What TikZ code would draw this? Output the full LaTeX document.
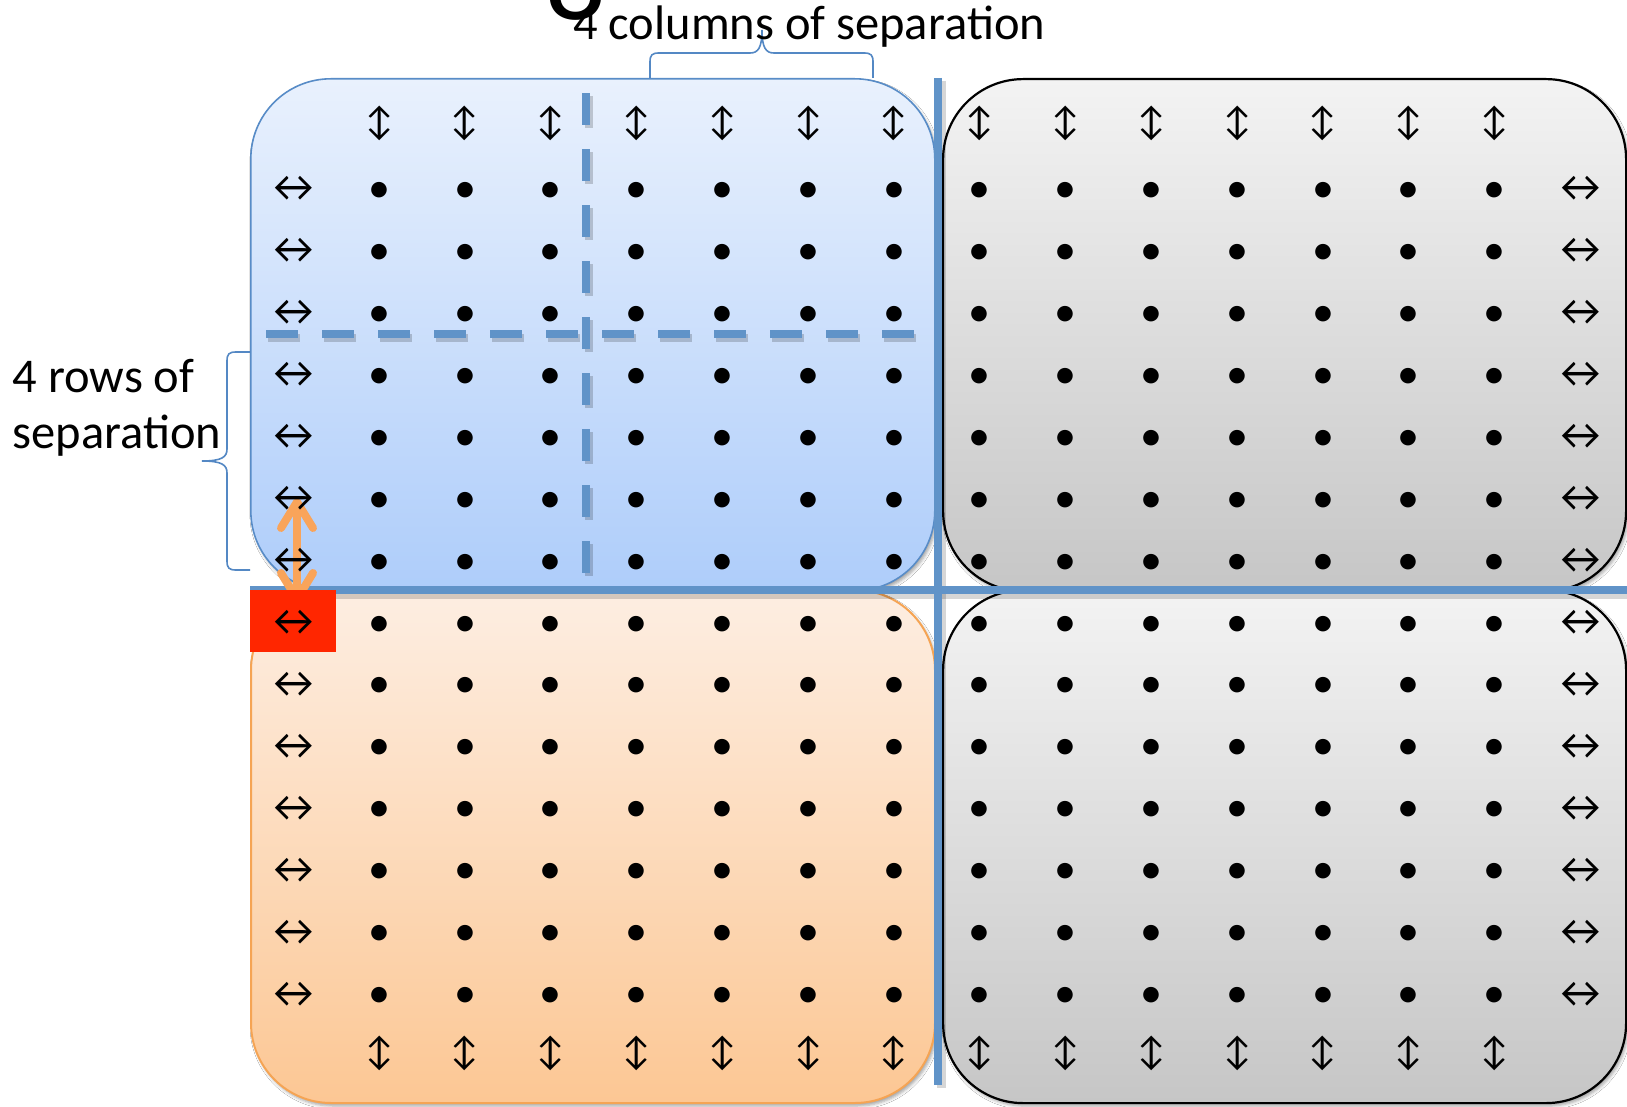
\documentclass[tikz,border=0pt]{standalone}
\usepackage{fontspec}
\setmainfont{Carlito}
\usetikzlibrary{arrows.meta,shadows.blur}

\definecolor{bluetop}{RGB}{233,241,253}
\definecolor{bluebot}{RGB}{174,205,250}
\definecolor{blueedge}{RGB}{88,140,199}
\definecolor{orangetop}{RGB}{253,238,226}
\definecolor{orangebot}{RGB}{252,199,148}
\definecolor{orangeedge}{RGB}{245,164,84}
\definecolor{graytop}{RGB}{243,243,243}
\definecolor{graybot}{RGB}{198,198,198}
\definecolor{sepblue}{RGB}{96,147,200}
\definecolor{bracecol}{RGB}{84,136,196}
\definecolor{hopcol}{RGB}{249,164,90}
\definecolor{cellred}{RGB}{255,38,0}

\tikzset{
  panel/.style={rectangle, rounded corners=80pt, inner sep=0pt,
    anchor=north west, minimum width=684pt, minimum height=512pt,
    blur shadow={shadow xshift=2pt, shadow yshift=-3pt,
      shadow blur radius=3pt, shadow opacity=35}},
  bluepanel/.style={panel, draw=blueedge, line width=1.6pt,
    top color=bluetop, bottom color=bluebot},
  orangepanel/.style={panel, draw=orangeedge, line width=2pt,
    top color=orangetop, bottom color=orangebot},
  graypanel/.style={panel, draw=black, line width=2.2pt,
    top color=graytop, bottom color=graybot},
  sepline/.style={draw=sepblue, line width=8pt},
  sepshadow/.style={draw=black, line width=9pt, opacity=0.16},
  cutline/.style={draw=sepblue, line width=8pt, dash pattern=on 32pt off 24pt},
  cutshadow/.style={draw=black, line width=8pt, opacity=0.18, dash pattern=on 32pt off 24pt},
  bracket/.style={draw=bracecol, line width=1.6pt},
  hop/.style={draw=hopcol, line width=8pt, line cap=round,
    {Straight Barb[length=26pt,width=32pt,round]}-{Straight Barb[length=26pt,width=32pt,round]}},
  lr/.style={inner sep=0pt, font=\fontsize{44}{44}\selectfont},
  ud/.style={inner sep=0pt, font=\fontsize{39}{39}\selectfont},
  pt/.style={inner sep=0pt, font=\fontsize{44}{44}\selectfont},
  caption/.style={inner sep=0pt, font=\fontsize{48.5}{55.6}\selectfont}
}

\begin{document}
\begin{tikzpicture}[x=1pt, y=-1pt]
% page
\fill[white] (0,0) rectangle (1627,1107);
\useasboundingbox (0,0) rectangle (1627,1107);

% the four quadrants
\node[bluepanel]   (blue)   at (250,78)  {};
\node[graypanel, minimum width=683pt]   (grayTR) at (942,78)  {};
\node[orangepanel, minimum height=513pt] (orange) at (250,589) {};
\node[graypanel, minimum width=683pt, minimum height=513pt] (grayBR) at (942,589) {};

% solid separators between quadrants
\coordinate (vTop) at (938,78);
\coordinate (vBot) at (938,1085);
\coordinate (hL) at (250,590);
\coordinate (hR) at (1627,590);
\draw[sepshadow] ([shift={(3,3)}]vTop) -- ([shift={(3,3)}]vBot);
\draw[sepshadow] ([shift={(0,4)}]hL) -- ([shift={(0,4)}]hR);
\draw[sepline] (vTop) -- (vBot);
\draw[sepline] (hL) -- (hR);

% dashed cut lines inside the blue quadrant
\coordinate (cutHL) at (266,334);
\coordinate (cutHR) at (914,334);
\coordinate (cutVT) at (586,93.3);
\coordinate (cutVB) at (586,573.3);
\draw[cutshadow] ([shift={(2,4)}]cutHL) -- ([shift={(2,4)}]cutHR);
\draw[cutshadow] ([shift={(3,3)}]cutVT) -- ([shift={(3,3)}]cutVB);
\draw[cutline] (cutHL) -- (cutHR);
\draw[cutline] (cutVT) -- (cutVB);

% braces
\coordinate (bTopL) at (650,78);
\coordinate (bTopR) at (873,78);
\coordinate (bTopTip) at (762,30);
\draw[bracket] (bTopL) -- (650,62) .. controls (650,55) and (652,53) .. (659,53)
  -- (750,53) .. controls (758,53) and (762,48) .. (bTopTip)
  .. controls (762,48) and (766,53) .. (774,53) -- (864,53)
  .. controls (871,53) and (873,55) .. (873,62) -- (bTopR);
\coordinate (bLeftT) at (250,352);
\coordinate (bLeftB) at (250,570);
\coordinate (bLeftTip) at (202,461);
\draw[bracket] (bLeftT) -- (236,352) .. controls (229,352) and (227,354) .. (227,361)
  -- (227,449) .. controls (227,457) and (222,461) .. (bLeftTip)
  .. controls (222,461) and (227,465) .. (227,473) -- (227,561)
  .. controls (227,568) and (229,570) .. (236,570) -- (bLeftB);

% hop between the two blocks
\coordinate (hopA) at (297,498);
\coordinate (hopB) at (297,603);
\draw[hop] (hopA) -- (hopB);

% highlighted cell
\fill[cellred] (250,590) rectangle (336,652);

% grid of cells
\foreach \c in {1,...,14} {
  \pgfmathsetmacro{\xx}{293.5+85.8*\c}
  \node[ud] (top\c) at (\xx,123.5) {↕};
  \node[ud] (bot\c) at (\xx,1053.5) {↕};
}
\foreach \r in {1,...,14} {
  \pgfmathsetmacro{\yy}{188.8+61.94*(\r-1)}
  \pgfmathsetmacro{\ya}{\yy+0.6}
  \pgfmathsetmacro{\yd}{\yy+3.6}
  \node[lr] (L\r) at (293.5,\ya) {↔};
  \node[lr] (R\r) at (1580.5,\ya) {↔};
  \foreach \c in {1,...,14} {
    \pgfmathsetmacro{\xx}{293.5+85.8*\c}
    \node[pt] (d\r-\c) at (\xx,\yd) {•};
  }
}

% labels
\node[caption, anchor=base, font=\fontsize{120}{120}\selectfont] (eight) at (576,20) {8};
\node[caption, anchor=base west] (colslabel) at (573,40) {4 columns of separation};
\node[caption, anchor=base west, align=left] (rowslabel) at (12.5,448.3) {4 rows of\\separation};
\end{tikzpicture}
\end{document}
